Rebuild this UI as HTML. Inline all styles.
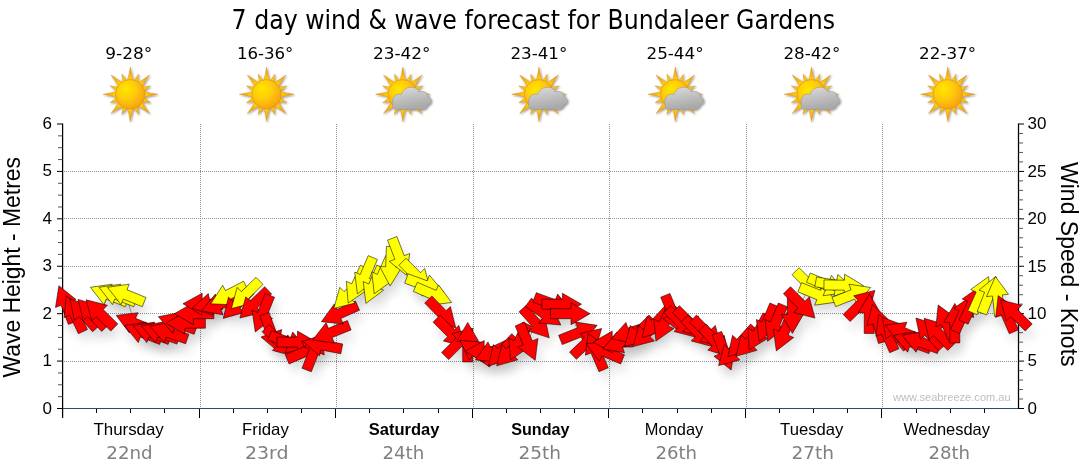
<!DOCTYPE html>
<html lang="en"><head><meta charset="utf-8"><title>7 day wind &amp; wave forecast for Bundaleer Gardens</title>
<style>html,body{margin:0;padding:0;background:#fff}svg{display:block}.t{font-family:"DejaVu Sans Condensed","DejaVu Sans","Liberation Sans",sans-serif}.a{font-family:"Liberation Sans",Arial,sans-serif}</style></head><body>
<svg width="1080" height="475" viewBox="0 0 1080 475">
<defs>
<radialGradient id="sg" cx="0.36" cy="0.33" r="0.78"><stop offset="0" stop-color="#ffe600"/><stop offset="0.4" stop-color="#ffcd08"/><stop offset="1" stop-color="#f5990a"/></radialGradient>
<radialGradient id="rg" gradientUnits="userSpaceOnUse" cx="0" cy="0" r="27"><stop offset="0.48" stop-color="#ffd61c"/><stop offset="1" stop-color="#ee920c"/></radialGradient>
<linearGradient id="cg" x1="0" y1="0" x2="0.3" y2="1"><stop offset="0" stop-color="#dcdcdc"/><stop offset="1" stop-color="#a9a9a9"/></linearGradient>
<filter id="sh" x="-60%" y="-60%" width="240%" height="260%"><feGaussianBlur in="SourceAlpha" stdDeviation="5.5"/><feOffset dx="4" dy="9"/><feComponentTransfer><feFuncA type="linear" slope="0.11"/></feComponentTransfer></filter>
<filter id="is" x="-20%" y="-20%" width="140%" height="140%"><feGaussianBlur in="SourceAlpha" stdDeviation="0.8"/><feOffset dx="0.5" dy="1"/><feComponentTransfer><feFuncA type="linear" slope="0.45"/></feComponentTransfer><feMerge><feMergeNode/><feMergeNode in="SourceGraphic"/></feMerge></filter>
<g id="sun"><g fill="url(#rg)" stroke="#d98c10" stroke-width="0.4"><path d="M-3.3,-12.5 Q-0.7,-20.9 0,-27.2 Q0.7,-20.9 3.3,-12.5Z" transform="rotate(0.0)"/><path d="M-2.7,-12.5 Q-0.7,-18.1 0,-21.8 Q0.7,-18.1 2.7,-12.5Z" transform="rotate(22.5)"/><path d="M-3.3,-12.5 Q-0.7,-20.9 0,-27.2 Q0.7,-20.9 3.3,-12.5Z" transform="rotate(45.0)"/><path d="M-2.7,-12.5 Q-0.7,-18.1 0,-21.8 Q0.7,-18.1 2.7,-12.5Z" transform="rotate(67.5)"/><path d="M-3.3,-12.5 Q-0.7,-20.9 0,-27.2 Q0.7,-20.9 3.3,-12.5Z" transform="rotate(90.0)"/><path d="M-2.7,-12.5 Q-0.7,-18.1 0,-21.8 Q0.7,-18.1 2.7,-12.5Z" transform="rotate(112.5)"/><path d="M-3.3,-12.5 Q-0.7,-20.9 0,-27.2 Q0.7,-20.9 3.3,-12.5Z" transform="rotate(135.0)"/><path d="M-2.7,-12.5 Q-0.7,-18.1 0,-21.8 Q0.7,-18.1 2.7,-12.5Z" transform="rotate(157.5)"/><path d="M-3.3,-12.5 Q-0.7,-20.9 0,-27.2 Q0.7,-20.9 3.3,-12.5Z" transform="rotate(180.0)"/><path d="M-2.7,-12.5 Q-0.7,-18.1 0,-21.8 Q0.7,-18.1 2.7,-12.5Z" transform="rotate(202.5)"/><path d="M-3.3,-12.5 Q-0.7,-20.9 0,-27.2 Q0.7,-20.9 3.3,-12.5Z" transform="rotate(225.0)"/><path d="M-2.7,-12.5 Q-0.7,-18.1 0,-21.8 Q0.7,-18.1 2.7,-12.5Z" transform="rotate(247.5)"/><path d="M-3.3,-12.5 Q-0.7,-20.9 0,-27.2 Q0.7,-20.9 3.3,-12.5Z" transform="rotate(270.0)"/><path d="M-2.7,-12.5 Q-0.7,-18.1 0,-21.8 Q0.7,-18.1 2.7,-12.5Z" transform="rotate(292.5)"/><path d="M-3.3,-12.5 Q-0.7,-20.9 0,-27.2 Q0.7,-20.9 3.3,-12.5Z" transform="rotate(315.0)"/><path d="M-2.7,-12.5 Q-0.7,-18.1 0,-21.8 Q0.7,-18.1 2.7,-12.5Z" transform="rotate(337.5)"/></g><circle r="14.7" fill="url(#sg)" stroke="#d88e0c" stroke-width="0.6"/></g>
<path id="cloud" d="M-5.5,15.2 C-9.5,15.2 -11,11.5 -10.3,8 C-10.8,3 -6.5,-1.8 -1.5,0.2 C1,-8.5 13.5,-9.5 16.5,-2.3 C21,-4.2 25.8,-1.2 25,2.5 C29.5,3.5 29.5,10 24.8,10.8 C24.5,13.8 22,15.2 19,15.2 Z" fill="url(#cg)" stroke="#8f8f8f" stroke-width="0.5"/>
</defs>
<rect width="1080" height="475" fill="#fff"/>
<text class="t" x="231.6" y="29" font-size="26" textLength="603.5" lengthAdjust="spacingAndGlyphs" fill="#000">7 day wind &amp; wave forecast for Bundaleer Gardens</text>
<text class="t" x="105.3" y="59" font-size="16" textLength="47.0" lengthAdjust="spacingAndGlyphs" fill="#000">9-28°</text>
<text class="t" x="236.9" y="59" font-size="16" textLength="56.5" lengthAdjust="spacingAndGlyphs" fill="#000">16-36°</text>
<text class="t" x="372.9" y="59" font-size="16" textLength="57.6" lengthAdjust="spacingAndGlyphs" fill="#000">23-42°</text>
<text class="t" x="510.4" y="59" font-size="16" textLength="56.9" lengthAdjust="spacingAndGlyphs" fill="#000">23-41°</text>
<text class="t" x="646.5" y="59" font-size="16" textLength="57.0" lengthAdjust="spacingAndGlyphs" fill="#000">25-44°</text>
<text class="t" x="783.4" y="59" font-size="16" textLength="56.9" lengthAdjust="spacingAndGlyphs" fill="#000">28-42°</text>
<text class="t" x="919.1" y="59" font-size="16" textLength="57.0" lengthAdjust="spacingAndGlyphs" fill="#000">22-37°</text>
<g transform="translate(130.3,94.3)" filter="url(#is)"><use href="#sun"/></g>
<g transform="translate(266.6,94.3)" filter="url(#is)"><use href="#sun"/></g>
<g transform="translate(402.8,94.3)" filter="url(#is)"><use href="#sun"/><use href="#cloud"/></g>
<g transform="translate(539.0,94.3)" filter="url(#is)"><use href="#sun"/><use href="#cloud"/></g>
<g transform="translate(675.3,94.3)" filter="url(#is)"><use href="#sun"/><use href="#cloud"/></g>
<g transform="translate(811.5,94.3)" filter="url(#is)"><use href="#sun"/><use href="#cloud"/></g>
<g transform="translate(947.8,94.3)" filter="url(#is)"><use href="#sun"/></g>
<g stroke="#909090" stroke-width="1" stroke-dasharray="1 1" shape-rendering="crispEdges"><line x1="64" y1="361.5" x2="1018" y2="361.5"/><line x1="64" y1="313.5" x2="1018" y2="313.5"/><line x1="64" y1="266.5" x2="1018" y2="266.5"/><line x1="64" y1="218.5" x2="1018" y2="218.5"/><line x1="64" y1="171.5" x2="1018" y2="171.5"/><line x1="200.5" y1="124" x2="200.5" y2="408"/><line x1="336.5" y1="124" x2="336.5" y2="408"/><line x1="473.5" y1="124" x2="473.5" y2="408"/><line x1="609.5" y1="124" x2="609.5" y2="408"/><line x1="746.5" y1="124" x2="746.5" y2="408"/><line x1="882.5" y1="124" x2="882.5" y2="408"/></g>
<g stroke="#000" stroke-width="1"><line x1="62.6" y1="123.5" x2="62.6" y2="418" stroke-width="1.25"/><line x1="1018.5" y1="123.5" x2="1018.5" y2="409" stroke-width="1.25"/><line x1="57" y1="408.50" x2="62.5" y2="408.50"/><line x1="57" y1="361.08" x2="62.5" y2="361.08"/><line x1="57" y1="313.67" x2="62.5" y2="313.67"/><line x1="57" y1="266.25" x2="62.5" y2="266.25"/><line x1="57" y1="218.83" x2="62.5" y2="218.83"/><line x1="57" y1="171.42" x2="62.5" y2="171.42"/><line x1="57" y1="124.00" x2="62.5" y2="124.00"/><line x1="1018.5" y1="408.50" x2="1024" y2="408.50"/><line x1="1018.5" y1="361.08" x2="1024" y2="361.08"/><line x1="1018.5" y1="313.67" x2="1024" y2="313.67"/><line x1="1018.5" y1="266.25" x2="1024" y2="266.25"/><line x1="1018.5" y1="218.83" x2="1024" y2="218.83"/><line x1="1018.5" y1="171.42" x2="1024" y2="171.42"/><line x1="1018.5" y1="124.00" x2="1024" y2="124.00"/><line x1="62.5" y1="409" x2="62.5" y2="418"/><line x1="96.5" y1="409" x2="96.5" y2="413"/><line x1="130.5" y1="409" x2="130.5" y2="413"/><line x1="164.5" y1="409" x2="164.5" y2="413"/><line x1="199.5" y1="409" x2="199.5" y2="418"/><line x1="233.5" y1="409" x2="233.5" y2="413"/><line x1="267.5" y1="409" x2="267.5" y2="413"/><line x1="301.5" y1="409" x2="301.5" y2="413"/><line x1="335.5" y1="409" x2="335.5" y2="418"/><line x1="369.5" y1="409" x2="369.5" y2="413"/><line x1="403.5" y1="409" x2="403.5" y2="413"/><line x1="438.5" y1="409" x2="438.5" y2="413"/><line x1="472.5" y1="409" x2="472.5" y2="418"/><line x1="506.5" y1="409" x2="506.5" y2="413"/><line x1="540.5" y1="409" x2="540.5" y2="413"/><line x1="574.5" y1="409" x2="574.5" y2="413"/><line x1="608.5" y1="409" x2="608.5" y2="418"/><line x1="642.5" y1="409" x2="642.5" y2="413"/><line x1="677.5" y1="409" x2="677.5" y2="413"/><line x1="711.5" y1="409" x2="711.5" y2="413"/><line x1="745.5" y1="409" x2="745.5" y2="418"/><line x1="779.5" y1="409" x2="779.5" y2="413"/><line x1="813.5" y1="409" x2="813.5" y2="413"/><line x1="847.5" y1="409" x2="847.5" y2="413"/><line x1="881.5" y1="409" x2="881.5" y2="418"/><line x1="916.5" y1="409" x2="916.5" y2="413"/><line x1="950.5" y1="409" x2="950.5" y2="413"/><line x1="984.5" y1="409" x2="984.5" y2="413"/></g>
<g stroke="#555" stroke-width="1"><line x1="58" y1="396.65" x2="62.5" y2="396.65"/><line x1="58" y1="384.79" x2="62.5" y2="384.79"/><line x1="58" y1="372.94" x2="62.5" y2="372.94"/><line x1="58" y1="349.23" x2="62.5" y2="349.23"/><line x1="58" y1="337.38" x2="62.5" y2="337.38"/><line x1="58" y1="325.52" x2="62.5" y2="325.52"/><line x1="58" y1="301.81" x2="62.5" y2="301.81"/><line x1="58" y1="289.96" x2="62.5" y2="289.96"/><line x1="58" y1="278.10" x2="62.5" y2="278.10"/><line x1="58" y1="254.40" x2="62.5" y2="254.40"/><line x1="58" y1="242.54" x2="62.5" y2="242.54"/><line x1="58" y1="230.69" x2="62.5" y2="230.69"/><line x1="58" y1="206.98" x2="62.5" y2="206.98"/><line x1="58" y1="195.12" x2="62.5" y2="195.12"/><line x1="58" y1="183.27" x2="62.5" y2="183.27"/><line x1="58" y1="159.56" x2="62.5" y2="159.56"/><line x1="58" y1="147.71" x2="62.5" y2="147.71"/><line x1="58" y1="135.85" x2="62.5" y2="135.85"/><line x1="1018.5" y1="399.02" x2="1023" y2="399.02"/><line x1="1018.5" y1="389.53" x2="1023" y2="389.53"/><line x1="1018.5" y1="380.05" x2="1023" y2="380.05"/><line x1="1018.5" y1="370.57" x2="1023" y2="370.57"/><line x1="1018.5" y1="351.60" x2="1023" y2="351.60"/><line x1="1018.5" y1="342.12" x2="1023" y2="342.12"/><line x1="1018.5" y1="332.63" x2="1023" y2="332.63"/><line x1="1018.5" y1="323.15" x2="1023" y2="323.15"/><line x1="1018.5" y1="304.18" x2="1023" y2="304.18"/><line x1="1018.5" y1="294.70" x2="1023" y2="294.70"/><line x1="1018.5" y1="285.22" x2="1023" y2="285.22"/><line x1="1018.5" y1="275.73" x2="1023" y2="275.73"/><line x1="1018.5" y1="256.77" x2="1023" y2="256.77"/><line x1="1018.5" y1="247.28" x2="1023" y2="247.28"/><line x1="1018.5" y1="237.80" x2="1023" y2="237.80"/><line x1="1018.5" y1="228.32" x2="1023" y2="228.32"/><line x1="1018.5" y1="209.35" x2="1023" y2="209.35"/><line x1="1018.5" y1="199.87" x2="1023" y2="199.87"/><line x1="1018.5" y1="190.38" x2="1023" y2="190.38"/><line x1="1018.5" y1="180.90" x2="1023" y2="180.90"/><line x1="1018.5" y1="161.93" x2="1023" y2="161.93"/><line x1="1018.5" y1="152.45" x2="1023" y2="152.45"/><line x1="1018.5" y1="142.97" x2="1023" y2="142.97"/><line x1="1018.5" y1="133.48" x2="1023" y2="133.48"/></g>
<line x1="63" y1="408.5" x2="1018" y2="408.5" stroke="#1f4e79" stroke-width="1.2"/>
<polyline points="66.0,304.2 74.5,313.7 83.1,313.7 91.6,313.7 100.2,313.7 108.7,294.7 117.3,294.7 125.8,294.7 134.4,323.2 142.9,332.6 151.5,332.6 160.0,332.6 168.6,332.6 177.1,323.2 185.6,323.2 194.2,313.7 202.7,304.2 211.3,304.2 219.8,304.2 228.4,294.7 236.9,304.2 245.5,294.7 254.0,304.2 262.6,313.7 271.1,332.6 279.6,342.1 288.2,342.1 296.7,342.1 305.3,351.6 313.8,351.6 322.4,345.1 330.9,332.6 339.5,313.7 348.0,294.7 356.6,285.2 365.1,275.7 373.7,285.2 382.2,275.7 390.7,266.3 399.3,256.8 416.4,275.7 424.9,285.2 433.5,294.7 442.0,313.7 450.6,332.6 459.1,342.1 467.7,342.1 476.2,351.6 484.8,351.6 493.3,351.6 501.8,351.6 510.4,351.6 518.9,342.1 527.5,342.1 536.0,323.2 544.6,313.7 553.1,304.2 561.7,304.2 570.2,313.7 578.8,332.6 587.3,342.1 595.9,351.6 604.4,351.6 612.9,342.1 621.5,342.1 630.0,332.6 638.6,332.6 647.1,332.6 655.7,323.2 664.2,323.2 672.8,313.7 681.3,323.2 689.9,323.2 698.4,332.6 706.9,332.6 715.5,342.1 724.0,351.6 732.6,351.6 741.1,342.1 749.7,342.1 758.2,332.6 766.8,323.2 775.3,323.2 783.9,332.6 792.4,313.7 801.0,304.2 809.5,285.2 818.0,294.7 826.6,285.2 835.1,285.2 843.7,285.2 852.2,294.7 860.8,304.2 869.3,313.7 877.9,323.2 886.4,332.6 895.0,332.6 903.5,332.6 912.1,342.1 920.6,342.1 929.1,332.6 937.7,332.6 946.2,323.2 954.8,323.2 963.3,313.7 971.9,304.2 980.4,294.7 989.0,294.7 997.5,296.2 1006.1,313.7 1014.6,313.7" fill="none" stroke="#999" stroke-width="0.8"/><g fill="#000"><polygon filter="url(#sh)" points="58.9,285.7 76.0,299.5 70.4,301.7 77.7,320.8 68.4,324.4 61.1,305.3 55.5,307.4"/><polygon filter="url(#sh)" points="66.2,295.8 84.2,308.3 78.8,310.9 87.4,329.5 78.4,333.7 69.7,315.1 64.3,317.6"/><polygon filter="url(#sh)" points="69.9,299.0 90.8,305.8 86.3,309.8 100.0,325.0 92.6,331.7 78.9,316.5 74.4,320.5"/><polygon filter="url(#sh)" points="78.0,299.4 99.1,305.5 94.7,309.7 108.9,324.5 101.7,331.4 87.5,316.6 83.2,320.7"/><polygon filter="url(#sh)" points="86.1,299.8 107.4,305.3 103.2,309.6 117.8,323.9 110.8,331.1 96.1,316.7 91.9,321.0"/><polygon filter="url(#sh)" points="90.4,287.3 112.2,284.2 109.9,289.8 128.9,297.5 125.2,306.7 106.2,299.1 103.9,304.6"/><polygon filter="url(#sh)" points="99.0,287.3 120.7,284.2 118.5,289.8 137.5,297.5 133.7,306.7 114.7,299.1 112.5,304.6"/><polygon filter="url(#sh)" points="107.5,287.3 129.2,284.2 127.0,289.8 146.0,297.5 142.3,306.7 123.3,299.1 121.0,304.6"/><polygon filter="url(#sh)" points="116.2,315.4 138.0,312.7 135.6,318.3 154.5,326.3 150.6,335.5 131.7,327.5 129.4,333.0"/><polygon filter="url(#sh)" points="124.5,325.6 146.2,322.1 144.0,327.7 163.1,335.0 159.6,344.4 140.4,337.0 138.3,342.6"/><polygon filter="url(#sh)" points="133.0,325.6 154.7,322.1 152.6,327.7 171.7,335.0 168.1,344.4 149.0,337.0 146.8,342.6"/><polygon filter="url(#sh)" points="141.4,325.9 163.1,322.0 161.0,327.7 180.3,334.7 176.9,344.1 157.6,337.1 155.5,342.7"/><polygon filter="url(#sh)" points="149.9,326.2 171.4,322.0 169.5,327.7 188.9,334.3 185.6,343.8 166.2,337.1 164.3,342.8"/><polygon filter="url(#sh)" points="158.4,316.7 180.0,312.5 178.0,318.2 197.4,324.9 194.1,334.3 174.8,327.6 172.8,333.3"/><polygon filter="url(#sh)" points="165.9,323.2 184.9,312.2 184.9,318.2 205.4,318.2 205.4,328.2 184.9,328.2 184.9,334.2"/><polygon filter="url(#sh)" points="174.4,313.7 193.4,302.7 193.4,308.7 213.9,308.7 213.9,318.7 193.4,318.7 193.4,324.7"/><polygon filter="url(#sh)" points="183.0,303.8 202.2,293.2 202.1,299.2 222.6,299.5 222.4,309.5 201.9,309.2 201.8,315.2"/><polygon filter="url(#sh)" points="192.0,308.3 208.3,293.6 209.5,299.5 229.6,295.2 231.6,305.0 211.6,309.2 212.8,315.1"/><polygon filter="url(#sh)" points="201.3,310.9 215.4,294.1 217.4,299.7 236.7,292.7 240.1,302.1 220.8,309.1 222.9,314.8"/><polygon filter="url(#sh)" points="210.8,303.8 222.7,285.3 225.4,290.6 243.6,281.2 248.2,290.1 230.0,299.5 232.8,304.8"/><polygon filter="url(#sh)" points="223.2,318.4 228.5,297.1 232.8,301.3 247.0,286.5 254.2,293.5 240.0,308.2 244.3,312.4"/><polygon filter="url(#sh)" points="231.4,308.6 237.2,287.4 241.4,291.7 256.0,277.3 263.0,284.4 248.4,298.8 252.7,303.1"/><polygon filter="url(#sh)" points="239.9,318.0 245.8,296.8 250.0,301.1 264.7,286.8 271.6,294.0 257.0,308.3 261.2,312.6"/><polygon filter="url(#sh)" points="255.3,332.0 252.1,310.3 257.6,312.5 265.2,293.5 274.5,297.2 266.9,316.2 272.5,318.4"/><polygon filter="url(#sh)" points="277.9,351.2 261.0,337.1 266.7,335.1 259.7,315.8 269.0,312.4 276.1,331.6 281.7,329.6"/><polygon filter="url(#sh)" points="293.6,356.1 272.4,350.4 276.6,346.2 262.1,331.7 269.2,324.6 283.7,339.1 288.0,334.9"/><polygon filter="url(#sh)" points="306.8,348.9 285.1,352.7 287.2,347.1 267.9,340.1 271.3,330.7 290.6,337.7 292.7,332.0"/><polygon filter="url(#sh)" points="316.5,342.1 297.5,353.1 297.5,347.1 277.0,347.1 277.0,337.1 297.5,337.1 297.5,331.1"/><polygon filter="url(#sh)" points="323.5,343.9 310.3,361.4 307.9,355.9 289.1,363.9 285.2,354.7 304.0,346.7 301.7,341.2"/><polygon filter="url(#sh)" points="321.0,333.2 324.3,354.9 318.8,352.7 311.3,371.8 302.0,368.2 309.5,349.1 303.9,346.9"/><polygon filter="url(#sh)" points="303.0,341.4 323.7,334.2 322.6,340.1 342.7,344.0 340.8,353.8 320.7,349.9 319.5,355.8"/><polygon filter="url(#sh)" points="312.6,340.0 326.1,322.7 328.4,328.3 347.4,320.6 351.1,329.9 332.1,337.6 334.4,343.1"/><polygon filter="url(#sh)" points="321.4,321.7 334.3,303.9 336.8,309.4 355.5,301.1 359.5,310.2 340.8,318.5 343.3,324.0"/><polygon filter="url(#sh)" points="333.8,308.4 339.8,287.3 344.0,291.6 358.8,277.4 365.7,284.6 351.0,298.8 355.1,303.1"/><polygon filter="url(#sh)" points="348.2,303.1 346.3,281.3 351.7,283.8 360.4,265.2 369.4,269.4 360.8,288.0 366.2,290.5"/><polygon filter="url(#sh)" points="357.4,293.9 354.7,272.1 360.2,274.5 368.2,255.6 377.4,259.5 369.4,278.4 374.9,280.7"/><polygon filter="url(#sh)" points="365.9,303.4 363.2,281.6 368.8,284.0 376.8,265.1 386.0,269.0 378.0,287.9 383.5,290.2"/><polygon filter="url(#sh)" points="374.2,293.8 371.8,271.9 377.3,274.4 385.7,255.7 394.8,259.7 386.5,278.5 391.9,280.9"/><polygon filter="url(#sh)" points="390.1,286.0 379.7,266.6 385.7,266.8 386.4,246.3 396.4,246.7 395.7,267.2 401.7,267.4"/><polygon filter="url(#sh)" points="406.4,275.2 389.3,261.4 394.9,259.3 387.5,240.1 396.9,236.5 404.2,255.7 409.8,253.5"/><polygon filter="url(#sh)" points="430.4,289.7 409.1,284.0 413.4,279.8 398.9,265.3 406.0,258.2 420.5,272.7 424.7,268.5"/><polygon filter="url(#sh)" points="443.5,292.0 421.9,295.8 423.9,290.2 404.7,283.2 408.1,273.8 427.3,280.8 429.4,275.1"/><polygon filter="url(#sh)" points="451.6,302.5 429.8,305.1 432.2,299.6 413.4,291.4 417.3,282.3 436.2,290.4 438.5,284.9"/><polygon filter="url(#sh)" points="455.8,327.9 434.6,321.9 439.0,317.7 424.7,303.0 431.9,296.0 446.1,310.7 450.4,306.6"/><polygon filter="url(#sh)" points="464.5,346.6 443.3,340.9 447.6,336.7 433.1,322.2 440.1,315.1 454.6,329.6 458.9,325.4"/><polygon filter="url(#sh)" points="473.1,328.2 467.4,349.4 463.2,345.1 448.7,359.6 441.6,352.5 456.1,338.1 451.9,333.8"/><polygon filter="url(#sh)" points="467.7,322.4 478.7,341.4 472.7,341.4 472.7,361.9 462.7,361.9 462.7,341.4 456.7,341.4"/><polygon filter="url(#sh)" points="460.0,340.3 481.9,342.2 478.5,347.1 495.3,358.8 489.5,367.0 472.7,355.3 469.3,360.2"/><polygon filter="url(#sh)" points="465.0,351.3 484.2,340.6 484.1,346.6 504.6,346.9 504.4,356.9 483.9,356.6 483.8,362.6"/><polygon filter="url(#sh)" points="475.4,359.9 488.0,341.9 490.5,347.4 509.1,338.7 513.3,347.8 494.7,356.5 497.3,361.9"/><polygon filter="url(#sh)" points="488.4,366.0 493.3,344.6 497.7,348.7 511.7,333.7 519.0,340.6 505.0,355.6 509.4,359.7"/><polygon filter="url(#sh)" points="496.7,365.8 502.0,344.5 506.3,348.7 520.5,333.9 527.7,340.9 513.5,355.6 517.8,359.8"/><polygon filter="url(#sh)" points="510.6,360.0 508.7,338.1 514.1,340.7 522.8,322.1 531.8,326.3 523.2,344.9 528.6,347.4"/><polygon filter="url(#sh)" points="535.2,360.3 517.7,347.1 523.2,344.8 515.2,325.9 524.4,322.0 532.4,340.9 537.9,338.5"/><polygon filter="url(#sh)" points="549.2,337.8 528.4,331.1 532.8,327.1 519.1,311.8 526.5,305.1 540.2,320.4 544.7,316.3"/><polygon filter="url(#sh)" points="560.8,325.0 538.9,323.1 542.3,318.2 525.5,306.4 531.3,298.2 548.1,310.0 551.5,305.1"/><polygon filter="url(#sh)" points="571.7,310.9 550.1,314.8 552.1,309.1 532.9,302.1 536.3,292.7 555.5,299.7 557.6,294.1"/><polygon filter="url(#sh)" points="581.4,304.2 562.4,315.2 562.4,309.2 541.9,309.2 541.9,299.2 562.4,299.2 562.4,293.2"/><polygon filter="url(#sh)" points="590.0,313.7 571.0,324.7 571.0,318.7 550.5,318.7 550.5,308.7 571.0,308.7 571.0,302.7"/><polygon filter="url(#sh)" points="597.1,325.3 583.5,342.6 581.3,337.0 562.3,344.6 558.6,335.3 577.6,327.7 575.4,322.1"/><polygon filter="url(#sh)" points="601.6,328.5 595.4,349.6 591.3,345.2 576.4,359.3 569.5,352.1 584.4,338.0 580.3,333.6"/><polygon filter="url(#sh)" points="588.1,333.4 605.7,346.6 600.2,348.9 608.2,367.8 599.0,371.7 591.0,352.9 585.4,355.2"/><polygon filter="url(#sh)" points="586.2,343.9 608.0,341.2 605.7,346.7 624.5,354.7 620.6,363.9 601.8,355.9 599.4,361.4"/><polygon filter="url(#sh)" points="593.2,342.1 612.2,331.1 612.2,337.1 632.7,337.1 632.7,347.1 612.2,347.1 612.2,353.1"/><polygon filter="url(#sh)" points="602.9,348.9 617.0,332.0 619.1,337.7 638.3,330.7 641.8,340.1 622.5,347.1 624.5,352.7"/><polygon filter="url(#sh)" points="611.3,338.7 625.9,322.4 627.8,328.1 647.3,321.8 650.4,331.3 630.9,337.6 632.7,343.3"/><polygon filter="url(#sh)" points="624.6,346.6 630.3,325.4 634.5,329.6 649.0,315.1 656.1,322.2 641.6,336.7 645.8,340.9"/><polygon filter="url(#sh)" points="633.2,346.6 638.8,325.4 643.1,329.6 657.6,315.1 664.6,322.2 650.1,336.7 654.4,340.9"/><polygon filter="url(#sh)" points="642.2,337.6 647.1,316.2 651.5,320.3 665.5,305.3 672.8,312.1 658.8,327.1 663.2,331.2"/><polygon filter="url(#sh)" points="655.9,341.1 653.9,319.2 659.4,321.7 668.0,303.1 677.1,307.4 668.4,325.9 673.9,328.5"/><polygon filter="url(#sh)" points="680.2,332.0 662.8,318.5 668.4,316.2 660.7,297.2 670.0,293.5 677.7,312.5 683.2,310.2"/><polygon filter="url(#sh)" points="695.3,337.1 674.1,331.5 678.3,327.2 663.8,312.7 670.9,305.7 685.4,320.1 689.6,315.9"/><polygon filter="url(#sh)" points="703.8,337.1 682.6,331.5 686.9,327.2 672.4,312.7 679.4,305.7 693.9,320.1 698.2,315.9"/><polygon filter="url(#sh)" points="712.4,346.6 691.2,340.9 695.4,336.7 680.9,322.2 688.0,315.1 702.5,329.6 706.7,325.4"/><polygon filter="url(#sh)" points="720.9,346.6 699.7,340.9 703.9,336.7 689.4,322.2 696.5,315.1 711.0,329.6 715.3,325.4"/><polygon filter="url(#sh)" points="728.7,356.8 707.8,350.0 712.3,346.0 698.6,330.8 706.0,324.1 719.7,339.3 724.2,335.3"/><polygon filter="url(#sh)" points="731.1,370.0 714.0,356.2 719.6,354.1 712.3,335.0 721.6,331.4 729.0,350.5 734.6,348.4"/><polygon filter="url(#sh)" points="718.6,365.6 724.3,344.4 728.5,348.6 743.0,334.1 750.1,341.2 735.6,355.7 739.8,359.9"/><polygon filter="url(#sh)" points="727.9,356.8 732.5,335.3 736.9,339.3 750.6,324.1 758.1,330.8 744.3,346.0 748.8,350.0"/><polygon filter="url(#sh)" points="736.0,356.3 741.2,335.0 745.6,339.2 759.8,324.4 767.0,331.4 752.8,346.1 757.1,350.3"/><polygon filter="url(#sh)" points="749.0,350.1 748.2,328.1 753.5,331.0 763.1,312.9 771.9,317.5 762.3,335.6 767.6,338.5"/><polygon filter="url(#sh)" points="759.1,341.3 756.4,319.5 761.9,321.9 769.9,303.0 779.1,306.9 771.1,325.8 776.6,328.1"/><polygon filter="url(#sh)" points="767.6,341.3 764.9,319.5 770.4,321.9 778.4,303.0 787.6,306.9 779.6,325.8 785.2,328.1"/><polygon filter="url(#sh)" points="776.3,350.9 773.4,329.1 779.0,331.4 786.8,312.5 796.0,316.3 788.2,335.2 793.7,337.5"/><polygon filter="url(#sh)" points="792.4,333.4 781.4,314.4 787.4,314.4 787.4,293.9 797.4,293.9 797.4,314.4 803.4,314.4"/><polygon filter="url(#sh)" points="814.9,318.1 793.7,312.5 798.0,308.3 783.4,293.8 790.5,286.7 805.0,301.2 809.3,296.9"/><polygon filter="url(#sh)" points="823.5,299.2 802.3,293.5 806.5,289.3 792.0,274.8 799.1,267.7 813.6,282.2 817.8,278.0"/><polygon filter="url(#sh)" points="836.4,302.1 814.6,305.2 816.9,299.6 797.9,291.9 801.6,282.7 820.6,290.3 822.9,284.8"/><polygon filter="url(#sh)" points="844.8,292.8 823.1,295.7 825.4,290.1 806.4,282.2 810.3,273.0 829.2,280.9 831.5,275.4"/><polygon filter="url(#sh)" points="854.6,288.7 834.0,296.2 835.0,290.3 814.8,286.7 816.6,276.9 836.7,280.4 837.8,274.5"/><polygon filter="url(#sh)" points="863.4,285.6 844.2,296.2 844.3,290.2 823.9,289.9 824.0,279.9 844.5,280.2 844.6,274.2"/><polygon filter="url(#sh)" points="870.6,287.5 857.0,304.7 854.8,299.1 835.7,306.6 832.0,297.3 851.1,289.8 848.9,284.2"/><polygon filter="url(#sh)" points="874.9,290.4 869.0,311.5 864.8,307.2 850.1,321.6 843.2,314.4 857.8,300.1 853.6,295.8"/><polygon filter="url(#sh)" points="869.5,293.9 880.3,313.0 874.3,313.0 874.2,333.5 864.2,333.4 864.3,312.9 858.3,312.8"/><polygon filter="url(#sh)" points="872.4,304.2 888.2,319.4 882.5,321.1 888.1,340.8 878.5,343.5 872.9,323.8 867.1,325.5"/><polygon filter="url(#sh)" points="878.5,314.5 896.2,327.5 890.7,329.9 898.9,348.7 889.7,352.7 881.5,334.0 876.0,336.4"/><polygon filter="url(#sh)" points="882.5,317.3 903.0,325.1 898.4,328.9 911.3,344.8 903.5,351.1 890.6,335.2 885.9,339.0"/><polygon filter="url(#sh)" points="885.2,325.2 906.9,322.2 904.7,327.7 923.7,335.4 919.9,344.7 900.9,337.0 898.7,342.6"/><polygon filter="url(#sh)" points="893.5,335.4 915.1,331.5 913.1,337.2 932.3,344.2 928.9,353.6 909.6,346.6 907.6,352.2"/><polygon filter="url(#sh)" points="902.0,335.4 923.7,331.5 921.6,337.2 940.9,344.2 937.4,353.6 918.2,346.6 916.1,352.2"/><polygon filter="url(#sh)" points="915.9,318.0 936.8,324.7 932.4,328.7 946.1,344.0 938.6,350.7 924.9,335.4 920.5,339.4"/><polygon filter="url(#sh)" points="924.1,318.3 945.2,324.5 940.8,328.7 954.9,343.5 947.7,350.4 933.5,335.5 929.2,339.7"/><polygon filter="url(#sh)" points="938.2,305.1 956.0,318.0 950.5,320.4 958.8,339.2 949.7,343.2 941.4,324.5 935.9,326.9"/><polygon filter="url(#sh)" points="954.8,303.4 965.8,322.4 959.8,322.4 959.8,342.9 949.8,342.9 949.8,322.4 943.8,322.4"/><polygon filter="url(#sh)" points="971.7,295.8 973.6,317.6 968.2,315.1 959.5,333.7 950.5,329.5 959.1,310.9 953.7,308.3"/><polygon filter="url(#sh)" points="980.2,286.3 982.2,308.2 976.7,305.6 968.1,324.2 959.0,320.0 967.7,301.4 962.2,298.9"/><polygon filter="url(#sh)" points="988.5,276.7 990.8,298.5 985.3,296.1 977.0,314.8 967.8,310.7 976.2,292.0 970.7,289.5"/><polygon filter="url(#sh)" points="996.0,276.3 999.5,297.9 993.9,295.8 986.6,314.9 977.2,311.4 984.6,292.2 979.0,290.1"/><polygon filter="url(#sh)" points="995.4,276.6 1008.4,294.3 1002.4,294.9 1004.6,315.3 994.6,316.4 992.5,296.0 986.5,296.6"/><polygon filter="url(#sh)" points="998.2,295.6 1015.8,308.6 1010.3,311.0 1018.5,329.8 1009.3,333.8 1001.2,315.0 995.7,317.4"/><polygon filter="url(#sh)" points="1000.5,299.9 1021.8,305.3 1017.6,309.6 1032.2,323.9 1025.2,331.0 1010.6,316.7 1006.4,321.0"/></g><g stroke="#000" stroke-width="0.55" stroke-linejoin="miter"><polygon points="58.9,285.7 76.0,299.5 70.4,301.7 77.7,320.8 68.4,324.4 61.1,305.3 55.5,307.4" fill="#ff0000"/><polygon points="66.2,295.8 84.2,308.3 78.8,310.9 87.4,329.5 78.4,333.7 69.7,315.1 64.3,317.6" fill="#ff0000"/><polygon points="69.9,299.0 90.8,305.8 86.3,309.8 100.0,325.0 92.6,331.7 78.9,316.5 74.4,320.5" fill="#ff0000"/><polygon points="78.0,299.4 99.1,305.5 94.7,309.7 108.9,324.5 101.7,331.4 87.5,316.6 83.2,320.7" fill="#ff0000"/><polygon points="86.1,299.8 107.4,305.3 103.2,309.6 117.8,323.9 110.8,331.1 96.1,316.7 91.9,321.0" fill="#ff0000"/><polygon points="90.4,287.3 112.2,284.2 109.9,289.8 128.9,297.5 125.2,306.7 106.2,299.1 103.9,304.6" fill="#ffff00"/><polygon points="99.0,287.3 120.7,284.2 118.5,289.8 137.5,297.5 133.7,306.7 114.7,299.1 112.5,304.6" fill="#ffff00"/><polygon points="107.5,287.3 129.2,284.2 127.0,289.8 146.0,297.5 142.3,306.7 123.3,299.1 121.0,304.6" fill="#ffff00"/><polygon points="116.2,315.4 138.0,312.7 135.6,318.3 154.5,326.3 150.6,335.5 131.7,327.5 129.4,333.0" fill="#ff0000"/><polygon points="124.5,325.6 146.2,322.1 144.0,327.7 163.1,335.0 159.6,344.4 140.4,337.0 138.3,342.6" fill="#ff0000"/><polygon points="133.0,325.6 154.7,322.1 152.6,327.7 171.7,335.0 168.1,344.4 149.0,337.0 146.8,342.6" fill="#ff0000"/><polygon points="141.4,325.9 163.1,322.0 161.0,327.7 180.3,334.7 176.9,344.1 157.6,337.1 155.5,342.7" fill="#ff0000"/><polygon points="149.9,326.2 171.4,322.0 169.5,327.7 188.9,334.3 185.6,343.8 166.2,337.1 164.3,342.8" fill="#ff0000"/><polygon points="158.4,316.7 180.0,312.5 178.0,318.2 197.4,324.9 194.1,334.3 174.8,327.6 172.8,333.3" fill="#ff0000"/><polygon points="165.9,323.2 184.9,312.2 184.9,318.2 205.4,318.2 205.4,328.2 184.9,328.2 184.9,334.2" fill="#ff0000"/><polygon points="174.4,313.7 193.4,302.7 193.4,308.7 213.9,308.7 213.9,318.7 193.4,318.7 193.4,324.7" fill="#ff0000"/><polygon points="183.0,303.8 202.2,293.2 202.1,299.2 222.6,299.5 222.4,309.5 201.9,309.2 201.8,315.2" fill="#ff0000"/><polygon points="192.0,308.3 208.3,293.6 209.5,299.5 229.6,295.2 231.6,305.0 211.6,309.2 212.8,315.1" fill="#ff0000"/><polygon points="201.3,310.9 215.4,294.1 217.4,299.7 236.7,292.7 240.1,302.1 220.8,309.1 222.9,314.8" fill="#ff0000"/><polygon points="210.8,303.8 222.7,285.3 225.4,290.6 243.6,281.2 248.2,290.1 230.0,299.5 232.8,304.8" fill="#ffff00"/><polygon points="223.2,318.4 228.5,297.1 232.8,301.3 247.0,286.5 254.2,293.5 240.0,308.2 244.3,312.4" fill="#ff0000"/><polygon points="231.4,308.6 237.2,287.4 241.4,291.7 256.0,277.3 263.0,284.4 248.4,298.8 252.7,303.1" fill="#ffff00"/><polygon points="239.9,318.0 245.8,296.8 250.0,301.1 264.7,286.8 271.6,294.0 257.0,308.3 261.2,312.6" fill="#ff0000"/><polygon points="255.3,332.0 252.1,310.3 257.6,312.5 265.2,293.5 274.5,297.2 266.9,316.2 272.5,318.4" fill="#ff0000"/><polygon points="277.9,351.2 261.0,337.1 266.7,335.1 259.7,315.8 269.0,312.4 276.1,331.6 281.7,329.6" fill="#ff0000"/><polygon points="293.6,356.1 272.4,350.4 276.6,346.2 262.1,331.7 269.2,324.6 283.7,339.1 288.0,334.9" fill="#ff0000"/><polygon points="306.8,348.9 285.1,352.7 287.2,347.1 267.9,340.1 271.3,330.7 290.6,337.7 292.7,332.0" fill="#ff0000"/><polygon points="316.5,342.1 297.5,353.1 297.5,347.1 277.0,347.1 277.0,337.1 297.5,337.1 297.5,331.1" fill="#ff0000"/><polygon points="323.5,343.9 310.3,361.4 307.9,355.9 289.1,363.9 285.2,354.7 304.0,346.7 301.7,341.2" fill="#ff0000"/><polygon points="321.0,333.2 324.3,354.9 318.8,352.7 311.3,371.8 302.0,368.2 309.5,349.1 303.9,346.9" fill="#ff0000"/><polygon points="303.0,341.4 323.7,334.2 322.6,340.1 342.7,344.0 340.8,353.8 320.7,349.9 319.5,355.8" fill="#ff0000"/><polygon points="312.6,340.0 326.1,322.7 328.4,328.3 347.4,320.6 351.1,329.9 332.1,337.6 334.4,343.1" fill="#ff0000"/><polygon points="321.4,321.7 334.3,303.9 336.8,309.4 355.5,301.1 359.5,310.2 340.8,318.5 343.3,324.0" fill="#ff0000"/><polygon points="333.8,308.4 339.8,287.3 344.0,291.6 358.8,277.4 365.7,284.6 351.0,298.8 355.1,303.1" fill="#ffff00"/><polygon points="348.2,303.1 346.3,281.3 351.7,283.8 360.4,265.2 369.4,269.4 360.8,288.0 366.2,290.5" fill="#ffff00"/><polygon points="357.4,293.9 354.7,272.1 360.2,274.5 368.2,255.6 377.4,259.5 369.4,278.4 374.9,280.7" fill="#ffff00"/><polygon points="365.9,303.4 363.2,281.6 368.8,284.0 376.8,265.1 386.0,269.0 378.0,287.9 383.5,290.2" fill="#ffff00"/><polygon points="374.2,293.8 371.8,271.9 377.3,274.4 385.7,255.7 394.8,259.7 386.5,278.5 391.9,280.9" fill="#ffff00"/><polygon points="390.1,286.0 379.7,266.6 385.7,266.8 386.4,246.3 396.4,246.7 395.7,267.2 401.7,267.4" fill="#ffff00"/><polygon points="406.4,275.2 389.3,261.4 394.9,259.3 387.5,240.1 396.9,236.5 404.2,255.7 409.8,253.5" fill="#ffff00"/><polygon points="430.4,289.7 409.1,284.0 413.4,279.8 398.9,265.3 406.0,258.2 420.5,272.7 424.7,268.5" fill="#ffff00"/><polygon points="443.5,292.0 421.9,295.8 423.9,290.2 404.7,283.2 408.1,273.8 427.3,280.8 429.4,275.1" fill="#ffff00"/><polygon points="451.6,302.5 429.8,305.1 432.2,299.6 413.4,291.4 417.3,282.3 436.2,290.4 438.5,284.9" fill="#ffff00"/><polygon points="455.8,327.9 434.6,321.9 439.0,317.7 424.7,303.0 431.9,296.0 446.1,310.7 450.4,306.6" fill="#ff0000"/><polygon points="464.5,346.6 443.3,340.9 447.6,336.7 433.1,322.2 440.1,315.1 454.6,329.6 458.9,325.4" fill="#ff0000"/><polygon points="473.1,328.2 467.4,349.4 463.2,345.1 448.7,359.6 441.6,352.5 456.1,338.1 451.9,333.8" fill="#ff0000"/><polygon points="467.7,322.4 478.7,341.4 472.7,341.4 472.7,361.9 462.7,361.9 462.7,341.4 456.7,341.4" fill="#ff0000"/><polygon points="460.0,340.3 481.9,342.2 478.5,347.1 495.3,358.8 489.5,367.0 472.7,355.3 469.3,360.2" fill="#ff0000"/><polygon points="465.0,351.3 484.2,340.6 484.1,346.6 504.6,346.9 504.4,356.9 483.9,356.6 483.8,362.6" fill="#ff0000"/><polygon points="475.4,359.9 488.0,341.9 490.5,347.4 509.1,338.7 513.3,347.8 494.7,356.5 497.3,361.9" fill="#ff0000"/><polygon points="488.4,366.0 493.3,344.6 497.7,348.7 511.7,333.7 519.0,340.6 505.0,355.6 509.4,359.7" fill="#ff0000"/><polygon points="496.7,365.8 502.0,344.5 506.3,348.7 520.5,333.9 527.7,340.9 513.5,355.6 517.8,359.8" fill="#ff0000"/><polygon points="510.6,360.0 508.7,338.1 514.1,340.7 522.8,322.1 531.8,326.3 523.2,344.9 528.6,347.4" fill="#ff0000"/><polygon points="535.2,360.3 517.7,347.1 523.2,344.8 515.2,325.9 524.4,322.0 532.4,340.9 537.9,338.5" fill="#ff0000"/><polygon points="549.2,337.8 528.4,331.1 532.8,327.1 519.1,311.8 526.5,305.1 540.2,320.4 544.7,316.3" fill="#ff0000"/><polygon points="560.8,325.0 538.9,323.1 542.3,318.2 525.5,306.4 531.3,298.2 548.1,310.0 551.5,305.1" fill="#ff0000"/><polygon points="571.7,310.9 550.1,314.8 552.1,309.1 532.9,302.1 536.3,292.7 555.5,299.7 557.6,294.1" fill="#ff0000"/><polygon points="581.4,304.2 562.4,315.2 562.4,309.2 541.9,309.2 541.9,299.2 562.4,299.2 562.4,293.2" fill="#ff0000"/><polygon points="590.0,313.7 571.0,324.7 571.0,318.7 550.5,318.7 550.5,308.7 571.0,308.7 571.0,302.7" fill="#ff0000"/><polygon points="597.1,325.3 583.5,342.6 581.3,337.0 562.3,344.6 558.6,335.3 577.6,327.7 575.4,322.1" fill="#ff0000"/><polygon points="601.6,328.5 595.4,349.6 591.3,345.2 576.4,359.3 569.5,352.1 584.4,338.0 580.3,333.6" fill="#ff0000"/><polygon points="588.1,333.4 605.7,346.6 600.2,348.9 608.2,367.8 599.0,371.7 591.0,352.9 585.4,355.2" fill="#ff0000"/><polygon points="586.2,343.9 608.0,341.2 605.7,346.7 624.5,354.7 620.6,363.9 601.8,355.9 599.4,361.4" fill="#ff0000"/><polygon points="593.2,342.1 612.2,331.1 612.2,337.1 632.7,337.1 632.7,347.1 612.2,347.1 612.2,353.1" fill="#ff0000"/><polygon points="602.9,348.9 617.0,332.0 619.1,337.7 638.3,330.7 641.8,340.1 622.5,347.1 624.5,352.7" fill="#ff0000"/><polygon points="611.3,338.7 625.9,322.4 627.8,328.1 647.3,321.8 650.4,331.3 630.9,337.6 632.7,343.3" fill="#ff0000"/><polygon points="624.6,346.6 630.3,325.4 634.5,329.6 649.0,315.1 656.1,322.2 641.6,336.7 645.8,340.9" fill="#ff0000"/><polygon points="633.2,346.6 638.8,325.4 643.1,329.6 657.6,315.1 664.6,322.2 650.1,336.7 654.4,340.9" fill="#ff0000"/><polygon points="642.2,337.6 647.1,316.2 651.5,320.3 665.5,305.3 672.8,312.1 658.8,327.1 663.2,331.2" fill="#ff0000"/><polygon points="655.9,341.1 653.9,319.2 659.4,321.7 668.0,303.1 677.1,307.4 668.4,325.9 673.9,328.5" fill="#ff0000"/><polygon points="680.2,332.0 662.8,318.5 668.4,316.2 660.7,297.2 670.0,293.5 677.7,312.5 683.2,310.2" fill="#ff0000"/><polygon points="695.3,337.1 674.1,331.5 678.3,327.2 663.8,312.7 670.9,305.7 685.4,320.1 689.6,315.9" fill="#ff0000"/><polygon points="703.8,337.1 682.6,331.5 686.9,327.2 672.4,312.7 679.4,305.7 693.9,320.1 698.2,315.9" fill="#ff0000"/><polygon points="712.4,346.6 691.2,340.9 695.4,336.7 680.9,322.2 688.0,315.1 702.5,329.6 706.7,325.4" fill="#ff0000"/><polygon points="720.9,346.6 699.7,340.9 703.9,336.7 689.4,322.2 696.5,315.1 711.0,329.6 715.3,325.4" fill="#ff0000"/><polygon points="728.7,356.8 707.8,350.0 712.3,346.0 698.6,330.8 706.0,324.1 719.7,339.3 724.2,335.3" fill="#ff0000"/><polygon points="731.1,370.0 714.0,356.2 719.6,354.1 712.3,335.0 721.6,331.4 729.0,350.5 734.6,348.4" fill="#ff0000"/><polygon points="718.6,365.6 724.3,344.4 728.5,348.6 743.0,334.1 750.1,341.2 735.6,355.7 739.8,359.9" fill="#ff0000"/><polygon points="727.9,356.8 732.5,335.3 736.9,339.3 750.6,324.1 758.1,330.8 744.3,346.0 748.8,350.0" fill="#ff0000"/><polygon points="736.0,356.3 741.2,335.0 745.6,339.2 759.8,324.4 767.0,331.4 752.8,346.1 757.1,350.3" fill="#ff0000"/><polygon points="749.0,350.1 748.2,328.1 753.5,331.0 763.1,312.9 771.9,317.5 762.3,335.6 767.6,338.5" fill="#ff0000"/><polygon points="759.1,341.3 756.4,319.5 761.9,321.9 769.9,303.0 779.1,306.9 771.1,325.8 776.6,328.1" fill="#ff0000"/><polygon points="767.6,341.3 764.9,319.5 770.4,321.9 778.4,303.0 787.6,306.9 779.6,325.8 785.2,328.1" fill="#ff0000"/><polygon points="776.3,350.9 773.4,329.1 779.0,331.4 786.8,312.5 796.0,316.3 788.2,335.2 793.7,337.5" fill="#ff0000"/><polygon points="792.4,333.4 781.4,314.4 787.4,314.4 787.4,293.9 797.4,293.9 797.4,314.4 803.4,314.4" fill="#ff0000"/><polygon points="814.9,318.1 793.7,312.5 798.0,308.3 783.4,293.8 790.5,286.7 805.0,301.2 809.3,296.9" fill="#ff0000"/><polygon points="823.5,299.2 802.3,293.5 806.5,289.3 792.0,274.8 799.1,267.7 813.6,282.2 817.8,278.0" fill="#ffff00"/><polygon points="836.4,302.1 814.6,305.2 816.9,299.6 797.9,291.9 801.6,282.7 820.6,290.3 822.9,284.8" fill="#ffff00"/><polygon points="844.8,292.8 823.1,295.7 825.4,290.1 806.4,282.2 810.3,273.0 829.2,280.9 831.5,275.4" fill="#ffff00"/><polygon points="854.6,288.7 834.0,296.2 835.0,290.3 814.8,286.7 816.6,276.9 836.7,280.4 837.8,274.5" fill="#ffff00"/><polygon points="863.4,285.6 844.2,296.2 844.3,290.2 823.9,289.9 824.0,279.9 844.5,280.2 844.6,274.2" fill="#ffff00"/><polygon points="870.6,287.5 857.0,304.7 854.8,299.1 835.7,306.6 832.0,297.3 851.1,289.8 848.9,284.2" fill="#ffff00"/><polygon points="874.9,290.4 869.0,311.5 864.8,307.2 850.1,321.6 843.2,314.4 857.8,300.1 853.6,295.8" fill="#ff0000"/><polygon points="869.5,293.9 880.3,313.0 874.3,313.0 874.2,333.5 864.2,333.4 864.3,312.9 858.3,312.8" fill="#ff0000"/><polygon points="872.4,304.2 888.2,319.4 882.5,321.1 888.1,340.8 878.5,343.5 872.9,323.8 867.1,325.5" fill="#ff0000"/><polygon points="878.5,314.5 896.2,327.5 890.7,329.9 898.9,348.7 889.7,352.7 881.5,334.0 876.0,336.4" fill="#ff0000"/><polygon points="882.5,317.3 903.0,325.1 898.4,328.9 911.3,344.8 903.5,351.1 890.6,335.2 885.9,339.0" fill="#ff0000"/><polygon points="885.2,325.2 906.9,322.2 904.7,327.7 923.7,335.4 919.9,344.7 900.9,337.0 898.7,342.6" fill="#ff0000"/><polygon points="893.5,335.4 915.1,331.5 913.1,337.2 932.3,344.2 928.9,353.6 909.6,346.6 907.6,352.2" fill="#ff0000"/><polygon points="902.0,335.4 923.7,331.5 921.6,337.2 940.9,344.2 937.4,353.6 918.2,346.6 916.1,352.2" fill="#ff0000"/><polygon points="915.9,318.0 936.8,324.7 932.4,328.7 946.1,344.0 938.6,350.7 924.9,335.4 920.5,339.4" fill="#ff0000"/><polygon points="924.1,318.3 945.2,324.5 940.8,328.7 954.9,343.5 947.7,350.4 933.5,335.5 929.2,339.7" fill="#ff0000"/><polygon points="938.2,305.1 956.0,318.0 950.5,320.4 958.8,339.2 949.7,343.2 941.4,324.5 935.9,326.9" fill="#ff0000"/><polygon points="954.8,303.4 965.8,322.4 959.8,322.4 959.8,342.9 949.8,342.9 949.8,322.4 943.8,322.4" fill="#ff0000"/><polygon points="971.7,295.8 973.6,317.6 968.2,315.1 959.5,333.7 950.5,329.5 959.1,310.9 953.7,308.3" fill="#ff0000"/><polygon points="980.2,286.3 982.2,308.2 976.7,305.6 968.1,324.2 959.0,320.0 967.7,301.4 962.2,298.9" fill="#ff0000"/><polygon points="988.5,276.7 990.8,298.5 985.3,296.1 977.0,314.8 967.8,310.7 976.2,292.0 970.7,289.5" fill="#ffff00"/><polygon points="996.0,276.3 999.5,297.9 993.9,295.8 986.6,314.9 977.2,311.4 984.6,292.2 979.0,290.1" fill="#ffff00"/><polygon points="995.4,276.6 1008.4,294.3 1002.4,294.9 1004.6,315.3 994.6,316.4 992.5,296.0 986.5,296.6" fill="#ffff00"/><polygon points="998.2,295.6 1015.8,308.6 1010.3,311.0 1018.5,329.8 1009.3,333.8 1001.2,315.0 995.7,317.4" fill="#ff0000"/><polygon points="1000.5,299.9 1021.8,305.3 1017.6,309.6 1032.2,323.9 1025.2,331.0 1010.6,316.7 1006.4,321.0" fill="#ff0000"/></g>
<text class="a" x="52" y="413.5" font-size="17" text-anchor="end" fill="#000">0</text>
<text class="a" x="52" y="366.1" font-size="17" text-anchor="end" fill="#000">1</text>
<text class="a" x="52" y="318.7" font-size="17" text-anchor="end" fill="#000">2</text>
<text class="a" x="52" y="271.2" font-size="17" text-anchor="end" fill="#000">3</text>
<text class="a" x="52" y="223.8" font-size="17" text-anchor="end" fill="#000">4</text>
<text class="a" x="52" y="176.4" font-size="17" text-anchor="end" fill="#000">5</text>
<text class="a" x="52" y="129.0" font-size="17" text-anchor="end" fill="#000">6</text>
<text class="a" x="1027.6" y="413.8" font-size="17" fill="#000">0</text>
<text class="a" x="1027.6" y="366.4" font-size="17" fill="#000">5</text>
<text class="a" x="1027.6" y="319.0" font-size="17" fill="#000">10</text>
<text class="a" x="1027.6" y="271.6" font-size="17" fill="#000">15</text>
<text class="a" x="1027.6" y="224.1" font-size="17" fill="#000">20</text>
<text class="a" x="1027.6" y="176.7" font-size="17" fill="#000">25</text>
<text class="a" x="1027.6" y="129.3" font-size="17" fill="#000">30</text>
<text class="a" transform="translate(20,267.3) rotate(-90)" font-size="23" text-anchor="middle" textLength="220.5" lengthAdjust="spacingAndGlyphs" fill="#000">Wave Height - Metres</text>
<text class="a" transform="translate(1060.8,264.3) rotate(90)" font-size="23" text-anchor="middle" textLength="204.5" lengthAdjust="spacingAndGlyphs" fill="#000">Wind Speed - Knots</text>
<text class="a" x="93.5" y="435" font-size="16.5" textLength="70.3" lengthAdjust="spacingAndGlyphs" fill="#000">Thursday</text>
<text class="a" x="242.1" y="435" font-size="16.5" textLength="46.7" lengthAdjust="spacingAndGlyphs" fill="#000">Friday</text>
<text class="a" x="368.8" y="435" font-size="16.5" font-weight="bold" textLength="70.7" lengthAdjust="spacingAndGlyphs" fill="#000">Saturday</text>
<text class="a" x="511.2" y="435" font-size="16.5" font-weight="bold" textLength="58.3" lengthAdjust="spacingAndGlyphs" fill="#000">Sunday</text>
<text class="a" x="644.8" y="435" font-size="16.5" textLength="58.5" lengthAdjust="spacingAndGlyphs" fill="#000">Monday</text>
<text class="a" x="780.1" y="435" font-size="16.5" textLength="63.3" lengthAdjust="spacingAndGlyphs" fill="#000">Tuesday</text>
<text class="a" x="903.4" y="435" font-size="16.5" textLength="86.6" lengthAdjust="spacingAndGlyphs" fill="#000">Wednesday</text>
<text class="t" x="106.3" y="459" font-size="18" textLength="46.4" lengthAdjust="spacingAndGlyphs" fill="#808080">22nd</text>
<text class="t" x="244.9" y="459" font-size="18" textLength="43.6" lengthAdjust="spacingAndGlyphs" fill="#808080">23rd</text>
<text class="t" x="382.4" y="459" font-size="18" textLength="41.9" lengthAdjust="spacingAndGlyphs" fill="#808080">24th</text>
<text class="t" x="518.4" y="459" font-size="18" textLength="42.6" lengthAdjust="spacingAndGlyphs" fill="#808080">25th</text>
<text class="t" x="655.4" y="459" font-size="18" textLength="41.6" lengthAdjust="spacingAndGlyphs" fill="#808080">26th</text>
<text class="t" x="791.4" y="459" font-size="18" textLength="42.6" lengthAdjust="spacingAndGlyphs" fill="#808080">27th</text>
<text class="t" x="928.4" y="459" font-size="18" textLength="41.7" lengthAdjust="spacingAndGlyphs" fill="#808080">28th</text>
<text class="a" x="893" y="400.7" font-size="11" textLength="117.7" lengthAdjust="spacingAndGlyphs" fill="#bebec6">www.seabreeze.com.au</text>
</svg></body></html>
